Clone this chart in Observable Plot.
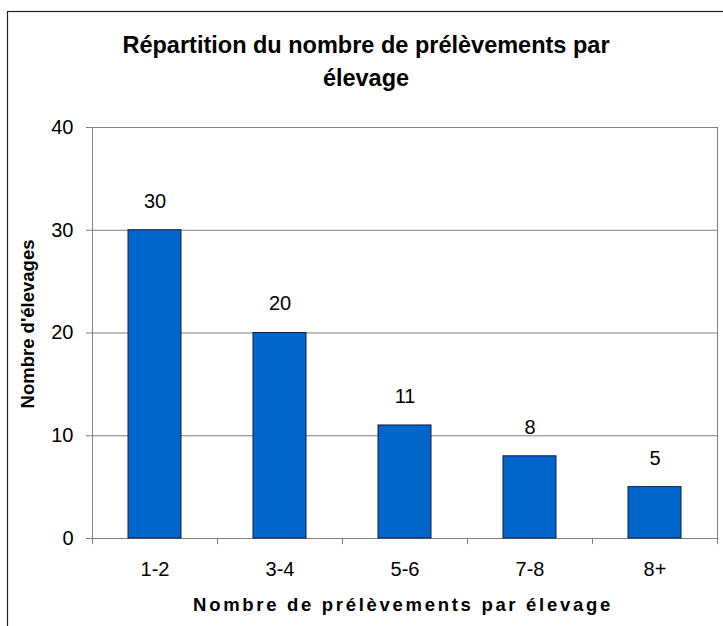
<!DOCTYPE html>
<html>
<head>
<meta charset="utf-8">
<script src="https://cdn.jsdelivr.net/npm/d3@7"></script>
<script src="https://cdn.jsdelivr.net/npm/@observablehq/plot@0.6"></script>
<style>
  html, body { margin: 0; padding: 0; background: #fff; }
  svg { display: block; }
</style>
</head>
<body>
<div id="chart"></div>
<script>
const categories = ["1-2", "3-4", "5-6", "7-8", "8+"];
const values = [30, 20, 11, 8, 5];
const yTicks = [0, 10, 20, 30, 40];
const titleLines = ["Répartition du nombre de prélèvements par", "élevage"];
const xTitle = "Nombre de prélèvements par élevage";
const yTitle = "Nombre d'élevages";

const data = categories.map((c, i) => ({cat: c, v: values[i]}));

const W = 723, H = 626;
const mL = 92, mR = 6, mT = 127, mB = 88;
const step = (W - mL - mR) / categories.length;
const font = "'Liberation Sans', Arial, sans-serif";

const plot = Plot.plot({
  width: W,
  height: H,
  marginLeft: mL,
  marginRight: mR,
  marginTop: mT,
  marginBottom: mB,
  style: {fontFamily: font, fontSize: "20px", background: "#fff", color: "#000"},
  x: {domain: categories, paddingInner: 0.58, paddingOuter: 0.29, label: null},
  y: {domain: [0, 40], label: null},
  marks: [
    Plot.ruleY(yTicks.filter(d => d > 0), {stroke: "#808080", strokeWidth: 1, strokeOpacity: 1}),
    Plot.frame({stroke: "#808080", strokeWidth: 1}),
    Plot.barY(data, {x: "cat", y: "v", fill: "#0066CC", stroke: "#1a1a40", strokeWidth: 1}),
    Plot.text(data, {x: "cat", y: "v", text: d => String(d.v), dy: -29, fontSize: 20, fill: "#000"}),
    Plot.axisY({ticks: yTicks, tickSize: 6, tickPadding: 13, stroke: "#808080", fontSize: 20, label: null, tickFormat: d => String(d)}),
    Plot.axisX({tickSize: 0, tickPadding: 23, fontSize: 20, label: null}),
    Plot.ruleX(categories, {x: d => d, dx: -step / 2, y1: 0, y2: -0.6, stroke: "#808080"}),
    Plot.ruleX(categories.slice(-1), {x: d => d, dx: step / 2, y1: 0, y2: -0.6, stroke: "#808080"})
  ]
});

document.getElementById("chart").append(plot);

const svg = d3.select(plot);
// outer chart frame
svg.append("rect")
  .attr("x", 7.5).attr("y", 11.5)
  .attr("width", 800).attr("height", 800)
  .attr("fill", "none").attr("stroke", "#222").attr("stroke-width", 1.2);

// title
const title = svg.append("text")
  .attr("text-anchor", "middle")
  .attr("font-family", font)
  .attr("font-weight", "bold")
  .attr("font-size", 23.5)
  .attr("fill", "#000");
titleLines.forEach((t, i) => {
  title.append("tspan").attr("x", 366).attr("y", 53 + i * 33).text(t);
});

// x axis title
svg.append("text")
  .attr("x", 403).attr("y", 611)
  .attr("text-anchor", "middle")
  .attr("font-family", font)
  .attr("font-weight", "bold")
  .attr("font-size", 18.5)
  .attr("letter-spacing", "2.7px")
  .attr("fill", "#000")
  .text(xTitle);

// y axis title
svg.append("text")
  .attr("transform", "translate(34,324) rotate(-90)")
  .attr("text-anchor", "middle")
  .attr("font-family", font)
  .attr("font-weight", "bold")
  .attr("font-size", 18.5)
  .attr("fill", "#000")
  .text(yTitle);
</script>
</body>
</html>
